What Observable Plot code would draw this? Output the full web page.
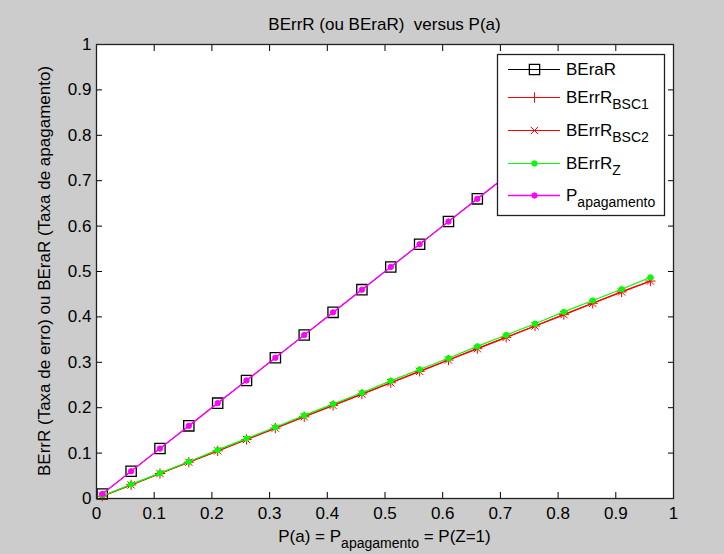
<!DOCTYPE html>
<html><head><meta charset="utf-8">
<script src="https://cdn.jsdelivr.net/npm/d3@7"></script>
<script src="https://cdn.jsdelivr.net/npm/@observablehq/plot@0.6"></script>
<style>html,body{margin:0;padding:0;background:#cccccc;} svg{display:block;}</style>
</head><body><div id="chart"></div>
<script>
// ---- data ----
const pa          = [0.01,0.06,0.11,0.16,0.21,0.26,0.31,0.36,0.41,0.46,0.51,0.56,0.61,0.66,0.71,0.76,0.81,0.86,0.91,0.96];
const beraR       = [0.01,0.06,0.11,0.16,0.21,0.26,0.31,0.36,0.41,0.46,0.51,0.56,0.61,0.66,0.71,0.76,0.81,0.86,0.91,0.96];
const berrBSC1    = [0.005,0.030,0.055,0.080,0.105,0.130,0.155,0.180,0.205,0.230,0.255,0.280,0.305,0.330,0.355,0.380,0.405,0.430,0.455,0.479];
const berrBSC2    = [0.005,0.030,0.055,0.080,0.105,0.130,0.155,0.180,0.205,0.230,0.255,0.280,0.305,0.330,0.355,0.380,0.405,0.430,0.455,0.479];
const berrZ       = [0.005,0.031,0.056,0.081,0.107,0.132,0.157,0.183,0.208,0.233,0.259,0.284,0.309,0.335,0.360,0.385,0.411,0.436,0.461,0.487];
const pApagamento = [0.01,0.06,0.11,0.16,0.21,0.26,0.31,0.36,0.41,0.46,0.51,0.56,0.61,0.66,0.71,0.76,0.81,0.86,0.91,0.96];
const xTicks = [0,0.1,0.2,0.3,0.4,0.5,0.6,0.7,0.8,0.9,1];
const yTicks = [0,0.1,0.2,0.3,0.4,0.5,0.6,0.7,0.8,0.9,1];
const titleText = "BErrR (ou BEraR)  versus P(a)";
const yLabelText = "BErrR (Taxa de erro) ou BEraR (Taxa de apagamento)";

const series = [
  {main:"BEraR", sub:"",           values: beraR,       color:"#000000", symbol:"square", r:5.8, fill:"none",    sw:1.3, lw:1},
  {main:"BErrR", sub:"BSC1",       values: berrBSC1,    color:"#ff0000", symbol:"plus",   r:3.4, fill:"none",    sw:1,   lw:1.2},
  {main:"BErrR", sub:"BSC2",       values: berrBSC2,    color:"#ff0000", symbol:"times",  r:3.4, fill:"none",    sw:1,   lw:1.2},
  {main:"BErrR", sub:"Z",          values: berrZ,       color:"#00ff00", symbol:"circle", r:2.7, fill:"#00ff00", sw:1,   lw:1.2},
  {main:"P",     sub:"apagamento", values: pApagamento, color:"#ff00ff", symbol:"circle", r:2.7, fill:"#ff00ff", sw:1,   lw:1.4}
];

const fmt = d3.format("~g");
const font = "'Liberation Sans', Arial, sans-serif";

const seriesMarks = [];
for (const s of series) {
  const rows = pa.map((x, i) => ({x, y: s.values[i]}));
  seriesMarks.push(Plot.line(rows, {x:"x", y:"y", stroke:s.color, strokeWidth:s.lw}));
  seriesMarks.push(Plot.dot(rows, {x:"x", y:"y", symbol:s.symbol, r:s.r, stroke:s.color, fill:s.fill, strokeWidth:s.sw}));
}

const svgNode = Plot.plot({
  width: 724, height: 554,
  marginLeft: 96, marginRight: 51, marginTop: 44, marginBottom: 56,
  style: {background:"#cccccc", fontFamily: font, fontSize:"17px", color:"black"},
  x: {domain:[0,1], label:null},
  y: {domain:[0,1], label:null},
  marks: [
    Plot.frame({fill:"white", stroke:"none"}),
    ...seriesMarks,
    Plot.axisX({anchor:"bottom", ticks:xTicks, tickSize:0, tickPadding:8, tickFormat:fmt, label:null, fontSize:17}),
    Plot.axisX({anchor:"bottom", ticks:xTicks, tickSize:-6, tickFormat:() => "", label:null}),
    Plot.axisX({anchor:"top", ticks:xTicks, tickSize:-6, tickFormat:() => "", label:null}),
    Plot.axisY({anchor:"left", ticks:yTicks, tickSize:0, tickPadding:5, tickFormat:fmt, label:null, fontSize:17}),
    Plot.axisY({anchor:"left", ticks:yTicks, tickSize:-6, tickFormat:() => "", label:null}),
    Plot.axisY({anchor:"right", ticks:yTicks, tickSize:-6, tickFormat:() => "", label:null}),
    Plot.frame({stroke:"#222222", strokeWidth:1.3})
  ]
});
document.getElementById("chart").appendChild(svgNode);

const svg = d3.select(svgNode);
// title
svg.append("text").attr("x", 384.5).attr("y", 30).attr("text-anchor","middle")
  .attr("font-family", font).attr("font-size", 17).attr("fill","black").text(titleText);
// x label
const xl = svg.append("text").attr("x", 384.5).attr("y", 542).attr("text-anchor","middle")
  .attr("font-family", font).attr("font-size", 17).attr("fill","black");
xl.append("tspan").text("P(a) = P");
xl.append("tspan").attr("dy", 6).attr("font-size", 14).text("apagamento");
xl.append("tspan").attr("dy", -6).text(" = P(Z=1)");
// y label
svg.append("text").attr("transform","translate(50,271) rotate(-90)").attr("text-anchor","middle")
  .attr("font-family", font).attr("font-size", 17).attr("fill","black").text(yLabelText);

// legend
const lg = svg.append("g").attr("text-anchor","start");
lg.append("rect").attr("x", 497.5).attr("y", 54.5).attr("width", 167).attr("height", 161)
  .attr("fill","white").attr("stroke","#222222").attr("stroke-width",1.3);
const rowY = [69, 97, 130, 163, 195];
series.forEach((s, i) => {
  const y = rowY[i] + 0.5;
  lg.append("line").attr("x1", 508).attr("x2", 560).attr("y1", y).attr("y2", y)
    .attr("stroke", s.color).attr("stroke-width", s.lw);
  const sym = d3.symbol().type(
      s.symbol === "square" ? d3.symbolSquare :
      s.symbol === "plus" ? d3.symbolPlus :
      s.symbol === "times" ? d3.symbolTimes : d3.symbolCircle)
    .size(s.r * s.r * Math.PI);
  lg.append("path").attr("d", sym()).attr("transform", `translate(534.5,${y})`)
    .attr("fill", s.fill).attr("stroke", s.color).attr("stroke-width", s.sw);
  const t = lg.append("text").attr("x", 566).attr("y", rowY[i] + 6).attr("text-anchor","start")
    .attr("font-family", font).attr("font-size", 17).attr("fill","black");
  t.append("tspan").text(s.main);
  if (s.sub) t.append("tspan").attr("dy", 6).attr("font-size", 14).text(s.sub);
});
</script>
</body></html>
